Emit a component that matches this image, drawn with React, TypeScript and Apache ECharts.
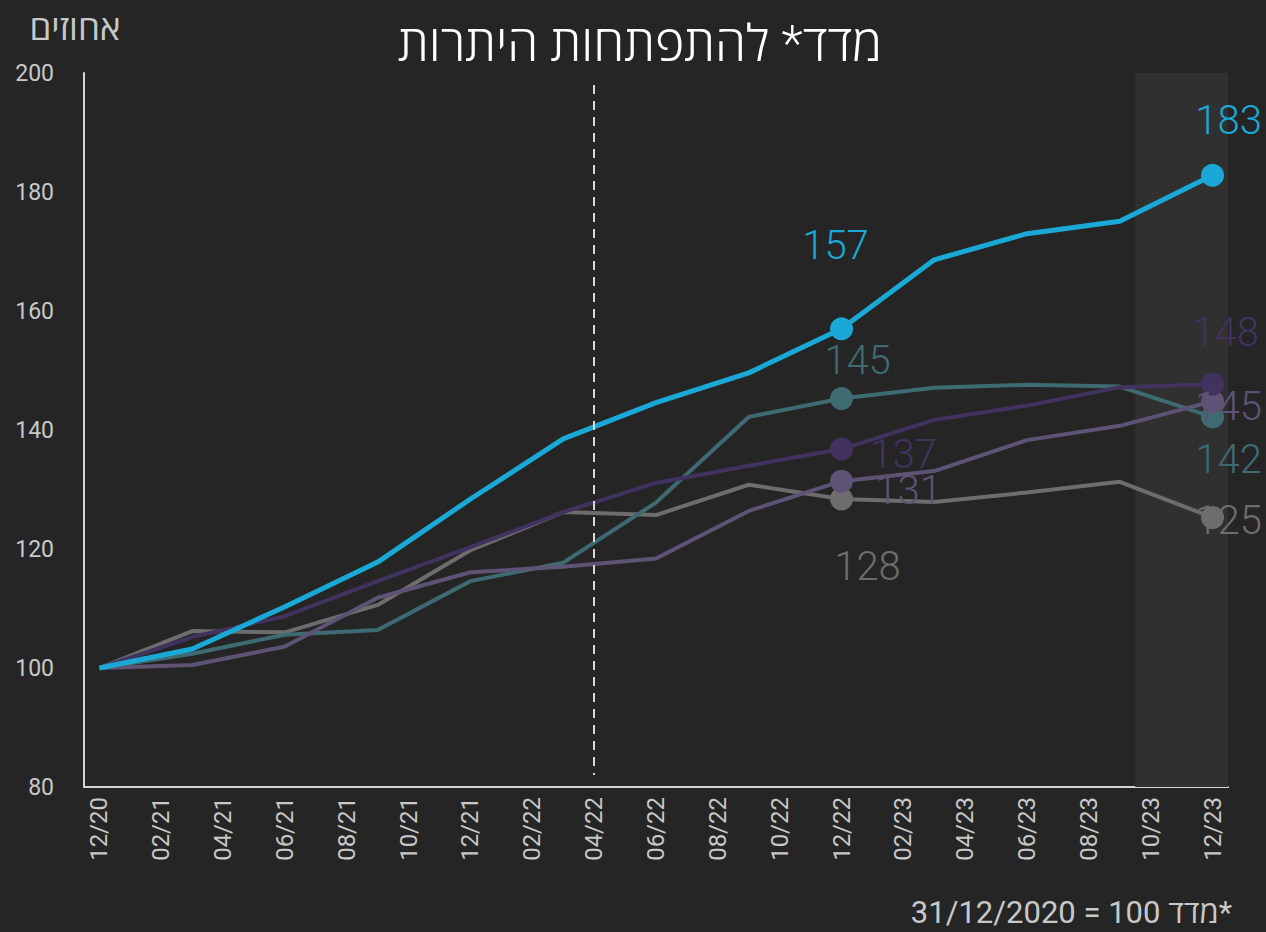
import React, { useEffect, useRef } from "react";
import * as echarts from "echarts";

// Monthly category axis (tick labels shown every second month)
const months = [
  "12/20", "01/21", "02/21", "03/21", "04/21", "05/21", "06/21", "07/21", "08/21", "09/21", "10/21", "11/21",
  "12/21", "01/22", "02/22", "03/22", "04/22", "05/22", "06/22", "07/22", "08/22", "09/22", "10/22", "11/22",
  "12/22", "01/23", "02/23", "03/23", "04/23", "05/23", "06/23", "07/23", "08/23", "09/23", "10/23", "11/23",
  "12/23",
];

// Quarterly observation dates
const quarters = [
  "12/20", "03/21", "06/21", "09/21", "12/21", "03/22", "06/22", "09/22", "12/22", "03/23", "06/23", "09/23", "12/23",
];

// Index values (31/12/2020 = 100)
const cyanValues = [100, 103.2, 110.3, 117.8, 128.4, 138.5, 144.6, 149.6, 157.0, 168.6, 173.0, 175.1, 182.8];
const tealValues = [100, 102.4, 105.6, 106.4, 114.6, 117.7, 127.8, 142.2, 145.3, 147.1, 147.6, 147.3, 142.2];
const purpleValues = [100, 105.2, 108.7, 114.6, 120.3, 126.2, 131.1, 134.0, 136.8, 141.7, 144.1, 147.2, 147.7];
const mauveValues = [100, 100.5, 103.6, 111.8, 116.1, 117.0, 118.4, 126.4, 131.4, 133.1, 138.3, 140.7, 144.8];
const grayValues = [100, 106.2, 106.0, 110.6, 119.8, 126.2, 125.7, 130.8, 128.4, 127.9, 129.5, 131.3, 125.3];

const highlighted = ["12/22", "12/23"];
const shadedMonths = ["10/23", "11/23", "12/23"];
const dashedAt = "04/22";

const yTicks = { min: 80, max: 200, interval: 20 };

const titleText = "מדד* להתפתחות היתרות";
const yName = "אחוזים";
const footnote = "\u200F*מדד 100 = 31/12/2020";

const FONT = "Roboto, 'Open Sans', 'DejaVu Sans', 'Liberation Sans', sans-serif";

type LabelOffsets = Record<string, [number, number]>;

function buildSeries(
  name: string,
  values: number[],
  color: string,
  width: number,
  offsets: LabelOffsets,
  extra: any = {}
) {
  const data = months.map((m) => {
    const qi = quarters.indexOf(m);
    if (qi < 0) return null;
    const v = values[qi];
    if (highlighted.includes(m)) {
      return {
        value: v,
        symbol: "circle",
        symbolSize: 23,
        label: {
          show: true,
          position: "inside",
          offset: offsets[m],
          formatter: (p: any) => String(Math.round(p.value)),
          color,
          fontSize: 40,
          fontFamily: FONT,
          fontWeight: 300,
        },
      };
    }
    return v;
  });
  return {
    name,
    type: "line",
    data,
    connectNulls: true,
    symbol: "none",
    showAllSymbol: true,
    lineStyle: { color, width },
    itemStyle: { color },
    emphasis: { disabled: true },
    ...extra,
  };
}

export default function App() {
  const ref = useRef<HTMLDivElement>(null);

  useEffect(() => {
    if (!ref.current) return;
    const chart = echarts.init(ref.current, undefined, { renderer: "svg" });

    const option: any = {
      animation: false,
      backgroundColor: "#252525",
      textStyle: { fontFamily: FONT },
      grid: { left: 84, right: 38, top: 73, bottom: 145, containLabel: false, outerBoundsMode: "none" },
      xAxis: {
        type: "category",
        data: months,
        boundaryGap: true,
        axisLine: { lineStyle: { color: "#d4d4d4", width: 2 } },
        axisTick: { interval: 1, length: 9, lineStyle: { color: "#d4d4d4", width: 2 } },
        axisLabel: {
          interval: 1,
          rotate: 90,
          margin: 10,
          fontSize: 24,
          color: "#c8c8c8",
          fontFamily: FONT,
        },
        splitLine: { show: false },
      },
      yAxis: {
        type: "value",
        min: yTicks.min,
        max: yTicks.max,
        interval: yTicks.interval,
        axisLine: { show: true, lineStyle: { color: "#d4d4d4", width: 2 } },
        axisTick: { show: false },
        axisLabel: { margin: 30, fontSize: 23, color: "#c8c8c8", fontFamily: FONT },
        splitLine: { show: false },
      },
      graphic: [
        {
          type: "text",
          x: 640,
          y: 44,
          style: {
            text: titleText,
            fill: "#ffffff",
            fontSize: 50,
            fontWeight: 300,
            fontFamily: FONT,
            textAlign: "center",
            textVerticalAlign: "middle",
          },
        },
        {
          type: "text",
          x: 75,
          y: 28,
          style: {
            text: yName,
            fill: "#c8c8c8",
            fontSize: 35,
            fontFamily: FONT,
            textAlign: "center",
            textVerticalAlign: "middle",
          },
        },
        {
          type: "text",
          x: 1232,
          y: 912,
          style: {
            text: footnote,
            fill: "#c8c8c8",
            fontSize: 31,
            fontFamily: FONT,
            textAlign: "right",
            textVerticalAlign: "middle",
          },
        },
      ],
      series: [
        {
          name: "shade",
          type: "bar",
          data: months.map((m) => (shadedMonths.includes(m) ? yTicks.max : null)),
          barCategoryGap: "0%",
          barGap: "0%",
          itemStyle: { color: "#303030" },
          silent: true,
          emphasis: { disabled: true },
          z: 1,
        },
        buildSeries(
          "gray",
          grayValues,
          "#6d6d6d",
          4,
          { "12/22": [26, 67], "12/23": [16, 3] },
          {
            markLine: {
              silent: true,
              symbol: ["none", "none"],
              label: { show: false },
              lineStyle: { color: "#d8d8d8", type: [9, 7], width: 2 },
              data: [[{ coord: [dashedAt, 198] }, { coord: [dashedAt, 82] }]],
            },
          }
        ),
        buildSeries("teal", tealValues, "#3e6b72", 4, { "12/22": [16, -38], "12/23": [16, 43] }),
        buildSeries("mauve", mauveValues, "#5e5374", 4, { "12/22": [67, 9], "12/23": [16, 5] }),
        buildSeries("purple", purpleValues, "#42325f", 4, { "12/22": [62, 5], "12/23": [13, -52] }),
        buildSeries("cyan", cyanValues, "#1aa9d6", 5, { "12/22": [-6, -83], "12/23": [16, -55] }),
      ],
    };

    chart.setOption(option);
    return () => chart.dispose();
  }, []);

  return (
    <div
      ref={ref}
      style={{ position: "fixed", left: 0, top: 0, width: 1266, height: 932, background: "#252525" }}
    />
  );
}
